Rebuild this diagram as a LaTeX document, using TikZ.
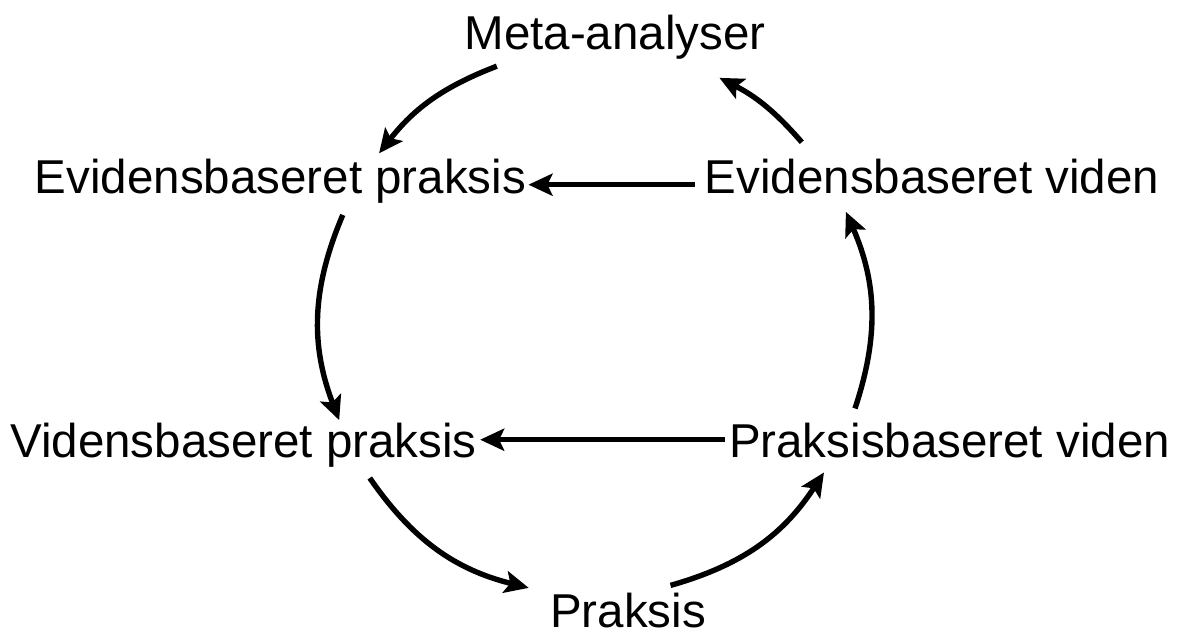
\documentclass[tikz,border=0pt]{standalone}
\usepackage{fontspec}
\setmainfont{Liberation Sans}
\usetikzlibrary{calc,arrows.meta}
\tikzset{
	>={Stealth[length=12pt,width=11pt,inset=2.5pt]},
	cedge/.style={arrows=->, black, line width=2.7pt},
	nlabel/.style={inner sep=0pt, anchor=base, font=\fontsize{23.75}{28}\selectfont},
}

\begin{document}
\begin{tikzpicture}[x=0.5pt,y=-0.5pt]
	\useasboundingbox (0,0) rectangle (1186,635);
	
	\node[nlabel] (meta) at (615,50) {Meta-analyser};
	\node[nlabel] (ep) at (280.5,194) {Evidensbaseret praksis};
	\node[nlabel] (ev) at (932,194) {Evidensbaseret viden};
	\node[nlabel] (vp) at (243.5,457) {Vidensbaseret praksis};
	\node[nlabel] (pv) at (949.5,457) {Praksisbaseret viden};
	\node[nlabel] (pr) at (628,627) {Praksis};
	
	% arc ends on the circle round the cycle
	\coordinate (o) at (595,322);
	\foreach \n/\a in {ma/-111, epa/-142, epb/-157, vpa/-201, vpb/-214.7, pra/-256,
		prb/74, pva/33.3, pvb/18.4, eva/-23.7, evb/-41, mb/-63}
	\coordinate (\n) at ($(o)+(\a:274)$);
	
	\path (ma) edge [cedge, bend right=15.5] (epa);
	\path (epb) edge [cedge, bend right=22] (vpa);
	\path (vpb) edge [cedge, bend right=20.7] (pra);
	\path (prb) edge [cedge, bend right=20.5] (pva);
	\path (pvb) edge [cedge, bend right=21] (eva);
	\path (evb) edge [cedge, bend right=11] (mb);
	
	\draw[cedge] ([shift={(-5pt,2pt)}]ev.mid west) -- ([shift={(1pt,2pt)}]ep.mid east);
	\draw[cedge] ([shift={(-2pt,6pt)}]pv.mid west) -- ([shift={(1.5pt,6pt)}]vp.mid east);
\end{tikzpicture}
\end{document}
